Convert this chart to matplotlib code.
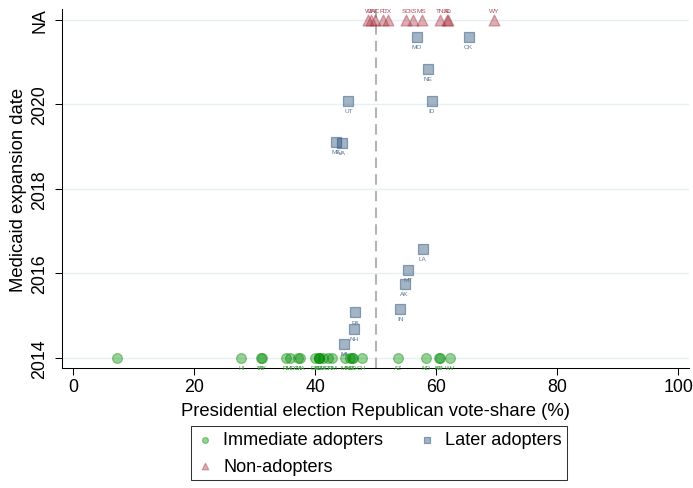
import matplotlib
matplotlib.use('Agg')
import matplotlib.pyplot as plt

plt.rcParams['font.family'] = ['Liberation Sans', 'DejaVu Sans']

# Immediate adopters (expanded Jan 2014)
imm_states = ['DC', 'HI', 'VT', 'NY', 'RI', 'MD', 'CA', 'MA', 'DE', 'CT', 'IL', 'NJ', 'WA',
              'OR', 'NM', 'MN', 'NV', 'CO', 'IA', 'OH', 'AZ', 'ND', 'KY', 'AR', 'WV']
imm_vote = [7.3, 27.8, 31.0, 31.2, 35.2, 35.9, 37.1, 37.5, 40.0, 40.7, 40.7, 40.6, 41.3,
            42.2, 42.8, 45.0, 45.7, 46.1, 46.2, 47.7, 53.7, 58.3, 60.5, 60.6, 62.3]
imm_date = [2014] * len(imm_states)
imm_labels = [''] + imm_states[1:]

# Later adopters
later_states = ['MI', 'NH', 'PA', 'IN', 'AK', 'MT', 'LA', 'ME', 'VA', 'UT', 'ID', 'NE', 'MO', 'OK']
later_vote = [44.7, 46.4, 46.6, 54.1, 54.8, 55.4, 57.8, 43.5, 44.4, 45.5, 59.3, 58.7, 56.8, 65.4]
later_date = [2014.33, 2014.7, 2015.08, 2015.17, 2015.75, 2016.08, 2016.58,
              2019.1, 2019.08, 2020.08, 2020.08, 2020.83, 2021.58, 2021.58]

# Non-adopters (plotted on the "NA" row)
non_states = ['WI', 'GA', 'NC', 'FL', 'TX', 'SC', 'KS', 'MS', 'TN', 'SD', 'AL', 'WY']
non_vote = [48.8, 49.2, 49.9, 51.2, 52.1, 55.1, 56.2, 57.6, 60.7, 61.8, 62.0, 69.5]
NA_POS = 2022
non_date = [NA_POS] * len(non_states)

ytick_vals = [2014, 2016, 2018, 2020, NA_POS]
ytick_labels = ['2014', '2016', '2018', '2020', 'NA']
xtick_vals = [0, 20, 40, 60, 80, 100]

green = (0.0, 0.55, 0.0)
navy = (0.10, 0.28, 0.44)
maroon = (0.66, 0.20, 0.25)

fig = plt.figure(figsize=(6.93, 4.89), dpi=100)
ax = fig.add_axes([0.0899, 0.2448, 0.9043, 0.7348])

ax.axvline(50, color='#b4b4b4', lw=1.5, ls=(0, (5, 3)), zorder=1)

ax.scatter(imm_vote, imm_date, s=50, marker='o', facecolor=green + (0.4,),
           edgecolor=green + (0.4,), linewidths=0.9, zorder=3, label='Immediate adopters')
ax.scatter(non_vote, non_date, s=62, marker='^', facecolor=maroon + (0.4,),
           edgecolor=maroon + (0.4,), linewidths=0.9, zorder=3, label='Non-adopters')
ax.scatter(later_vote, later_date, s=46, marker='s', facecolor=navy + (0.4,),
           edgecolor=navy + (0.45,), linewidths=0.9, zorder=3, label='Later adopters')

for x, y, t in zip(imm_vote, imm_date, imm_labels):
    ax.annotate(t, (x, y), xytext=(0, -6.9), textcoords='offset points',
                ha='center', va='center', fontsize=4.6, color='#3c9c3c')
for x, y, t in zip(later_vote, later_date, later_states):
    ax.annotate(t, (x, y), xytext=(0, -6.9), textcoords='offset points',
                ha='center', va='center', fontsize=4.6, color='#5a7895')
for x, y, t in zip(non_vote, non_date, non_states):
    ax.annotate(t, (x, y), xytext=(0, 6.2), textcoords='offset points',
                ha='center', va='center', fontsize=4.6, color='#b0505c')

ax.set_xlim(-1.8, 101.8)
ax.set_ylim(2013.76, 2022.25)
ax.set_xticks(xtick_vals)
ax.set_yticks(ytick_vals)
ax.set_yticklabels(ytick_labels, rotation=90, va='center')
ax.tick_params(axis='both', labelsize=12.8, length=5, width=0.75, direction='out')
ax.tick_params(axis='x', pad=2)
ax.tick_params(axis='y', pad=5)
ax.yaxis.grid(True, color='#e6eff1', lw=1)
ax.set_axisbelow(True)

for s in ['top', 'right']:
    ax.spines[s].set_visible(False)
for s in ['left', 'bottom']:
    ax.spines[s].set_linewidth(0.75)

ax.set_xlabel('Presidential election Republican vote-share (%)', fontsize=13.3, labelpad=5)
ax.set_ylabel('Medicaid expansion date', fontsize=13.3, labelpad=3)

leg = ax.legend(loc='center', bbox_to_anchor=(0.547, 0.0716), bbox_transform=fig.transFigure,
                ncol=2, fontsize=13.1, frameon=True, fancybox=False, edgecolor='black',
                markerscale=0.6, handletextpad=0.5, columnspacing=1.9,
                borderpad=0.3, labelspacing=0.5, handlelength=1.0)
leg.get_frame().set_linewidth(0.75)

fig.savefig('out.png', dpi=100)
